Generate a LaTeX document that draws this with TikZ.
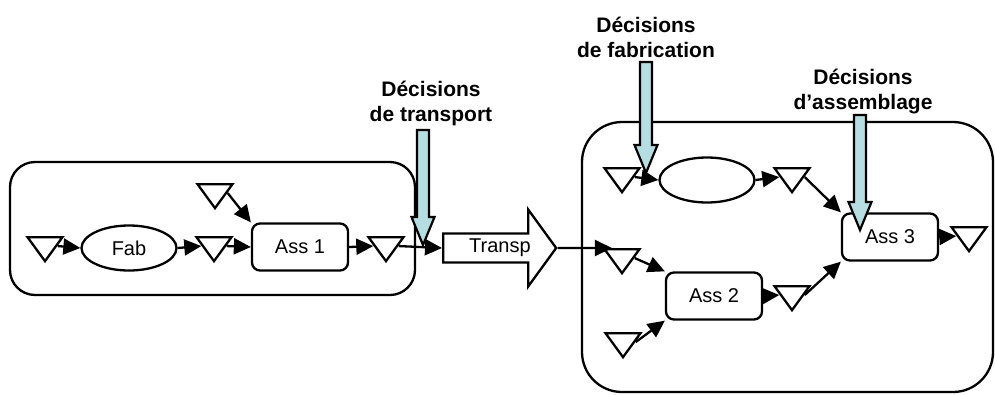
\documentclass[tikz,border=0pt]{standalone}
\usepackage{fontspec}
\setmainfont{Liberation Sans}
\usetikzlibrary{shapes.geometric,shapes.arrows,arrows.meta}
\definecolor{decblue}{RGB}{182,221,225}

\begin{document}
\begin{tikzpicture}[x=1pt,y=-1pt,>={Triangle[length=17pt,width=16pt]},
	line width=2.3pt,font=\fontsize{20}{24}\selectfont,
	stock/.style={draw,isosceles triangle,isosceles triangle stretches,shape border rotate=270,
		minimum width=35pt,minimum height=24pt,inner sep=0pt,anchor=north},
	process/.style={draw,rounded corners=8pt,minimum width=96pt,minimum height=47pt,inner sep=0pt},
	fabr/.style={draw,ellipse,minimum width=95pt,minimum height=45pt,inner sep=0pt},
	decision/.pic={\filldraw[fill=decblue,line width=2.2pt,line join=miter]
		(0,0) -- (-11.5,-28) -- (-6,-28) -- (-6,-#1) -- (6,-#1) -- (6,-28) -- (11.5,-28) -- cycle;},
	declabel/.style={align=center,font=\fontsize{21}{25}\selectfont\bfseries}]

	\useasboundingbox (0,0) rectangle (995,394);

	% Draw the two sites
	\node[draw,rounded corners=25pt,minimum width=405pt,minimum height=133pt] (site1) at (212.5,228.5) {};
	\node[draw,rounded corners=40pt,minimum width=411pt,minimum height=270pt] (site2) at (787.5,257) {};

	% Draw first site
	\node[stock] (t1) at (45,236) {};
	\node[fabr] (fab) at (129,248) {Fab};
	\node[stock] (t2) at (214,236) {};
	\node[stock] (t0) at (215,183) {};
	\node[process] (ass1) at (300,247) {Ass 1};
	\node[stock] (t3) at (386,236) {};
	\draw[->] (t1.east) -- (fab.west);
	\draw[->] (fab.east) -- (t2.west);
	\draw[->] (t2.east) -- (ass1.west);
	\draw[->] (t0.east) -- (ass1.north west);
	\draw[->] (ass1.east) -- (t3.west);

	% Draw transport
	\node[draw,single arrow,minimum height=113pt,minimum width=77pt,single arrow head extend=20pt,
		single arrow tip angle=108,inner sep=2pt,anchor=tail] (transp) at (442,248) {~~Transp};
	\draw[->] (t3.east) -- (transp.tail);

	% Draw second site
	\node[stock] (ta) at (622,167) {};
	\node[fabr] (fab2) at (707,180) {};
	\node[stock] (tb) at (792,167) {};
	\node[stock] (td) at (622,248) {};
	\node[stock] (te) at (623,332) {};
	\node[process] (ass2) at (714,296) {Ass 2};
	\node[stock] (tf) at (792,285) {};
	\node[process] (ass3) at (890,237) {Ass 3};
	\node[stock] (tc) at (969,226) {};
	\draw[->] (transp.tip) -- (td.north west);
	\draw[->] (ta.east) -- (fab2.west);
	\draw[->] (fab2.east) -- (tb.west);
	\draw[->] (tb.east) -- (ass3.north west);
	\draw[->] (td.east) -- (ass2.north west);
	\draw[->] (te.east) -- (ass2.south west);
	\draw[->] (ass2.east) -- (tf.west);
	\draw[->] (tf.east) -- (ass3.south west);
	\draw[->] (ass3.east) -- (tc.west);

	% Draw the decisions
	\pic at (423,245) {decision=115};
	\pic at (646,173) {decision=111};
	\pic at (860,230) {decision=115};
	\node[declabel] (labT) at (431,103) {Décisions\\de transport};
	\node[declabel] (labF) at (646,37) {Décisions\\de fabrication};
	\node[declabel] (labA) at (863,92) {Décisions\\d’assemblage};
\end{tikzpicture}
\end{document}
